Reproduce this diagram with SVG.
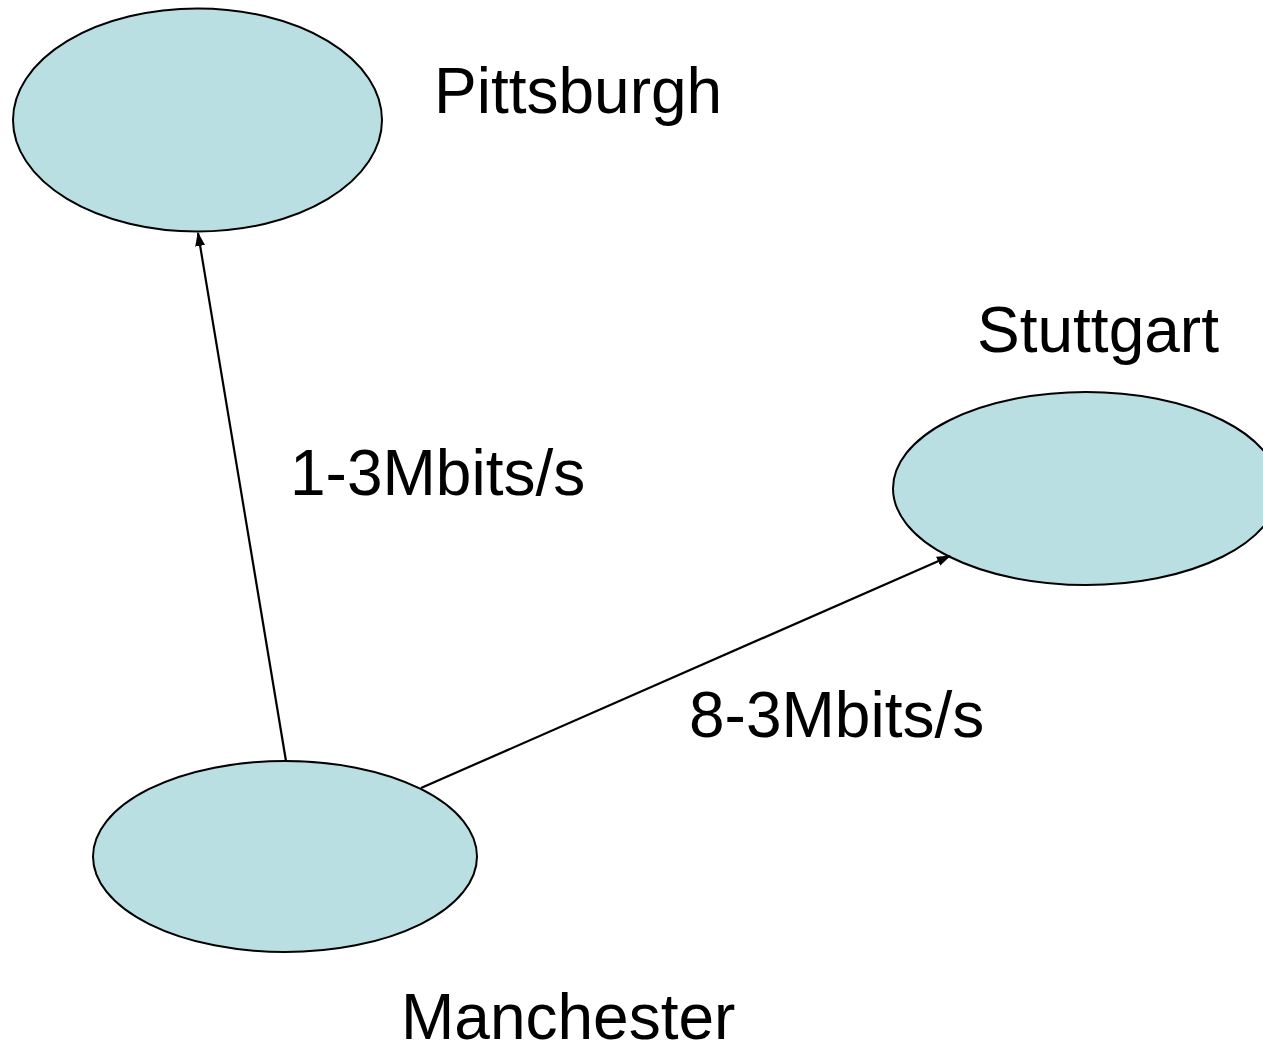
<svg xmlns="http://www.w3.org/2000/svg" width="1263" height="1047" viewBox="0 0 1263 1047">
  <style>
    .node { fill: #b9dfe3; stroke: #000; stroke-width: 2; }
    .edge { stroke: #000; stroke-width: 2.2; fill: none; marker-end: url(#arrow); }
    .label { font-family: "Liberation Sans", Arial, sans-serif; font-size: 64px; fill: #000; }
  </style>
  <defs>
    <!-- filled triangular arrowhead, sized in user units -->
    <marker id="arrow" viewBox="0 0 14 10" refX="13" refY="5" markerWidth="14" markerHeight="10" markerUnits="userSpaceOnUse" orient="auto">
      <path d="M0,0 L14,5 L0,10 z" fill="#000"/>
    </marker>
  </defs>
  <rect width="1263" height="1047" fill="#fff"/>

  <g id="pittsburgh">
    <ellipse class="node" cx="197.5" cy="120" rx="184.5" ry="111.5"/>
    <text class="label" x="434" y="113">Pittsburgh</text>
  </g>

  <g id="stuttgart">
    <ellipse class="node" cx="1086" cy="488.5" rx="193" ry="96.5"/>
    <text class="label" x="977" y="352">Stuttgart</text>
  </g>

  <g id="manchester">
    <ellipse class="node" cx="285" cy="856.5" rx="192" ry="95.5"/>
    <text class="label" x="401" y="1039">Manchester</text>
  </g>

  <g id="connectors">
    <line class="edge" x1="286" y1="761" x2="198" y2="233"/>
    <text class="label" x="290" y="495">1-3Mbits/s</text>
    <line class="edge" x1="421" y1="788" x2="950" y2="556"/>
    <text class="label" x="689" y="737">8-3Mbits/s</text>
  </g>
</svg>
